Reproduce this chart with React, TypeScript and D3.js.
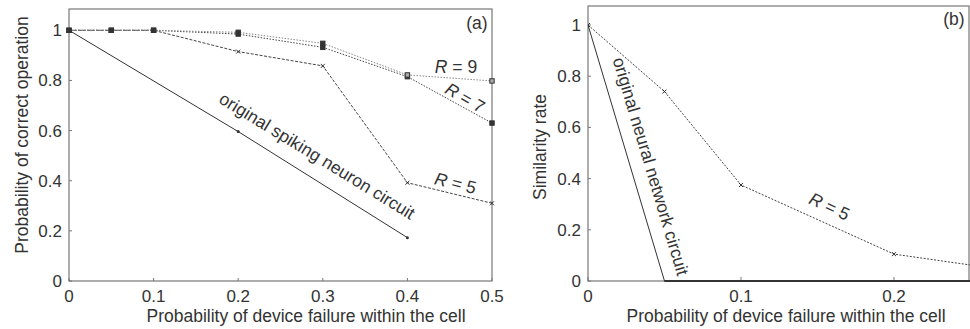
import { scaleLinear, line } from "d3";

// panel (a)
const xA = [0, 0.05, 0.1, 0.2, 0.3, 0.4, 0.5];
const r9A = [1, 1, 1, 0.992, 0.948, 0.822, 0.798];
const r7A = [1, 1, 1, 0.985, 0.932, 0.815, 0.63];
const r5A = [1, 1, 1, 0.915, 0.858, 0.392, 0.31];
const origAx = [0, 0.2, 0.4];
const origA = [1, 0.596, 0.173];
const xTicksA = [0, 0.1, 0.2, 0.3, 0.4, 0.5];

// panel (b)
const xB = [0, 0.05, 0.1, 0.2, 0.3];
const r5B = [1, 0.74, 0.375, 0.105, 0.02];
const origBx = [0, 0.05, 0.3];
const origB = [1, 0, 0];
const xTicksB = [0, 0.1, 0.2];

const yTicks = [0, 0.2, 0.4, 0.6, 0.8, 1];

const FONT = "Liberation Sans, Arial, sans-serif";
const TXT = "#333";
const FRAME = "#777";
const FS = 17.5;
const TICK_FS = 17;

type Pt = [number, number];
const zip = (xs: number[], ys: number[]): Pt[] => xs.map((x, i) => [x, ys[i]]);

function Square({ x, y, fill }: { x: number; y: number; fill: string }) {
  return <rect x={x - 2.2} y={y - 2.2} width={4.4} height={4.4} fill={fill} stroke="#333" strokeWidth={1} />;
}
function Cross({ x, y }: { x: number; y: number }) {
  return (
    <path d={`M${x - 2},${y - 2}L${x + 2},${y + 2}M${x - 2},${y + 2}L${x + 2},${y - 2}`} stroke="#333" strokeWidth={1} />
  );
}

export default function App() {
  // panel (a) scales
  const xa = scaleLinear().domain([0, 0.5]).range([69, 492]);
  const ya = scaleLinear().domain([0, 1]).range([281, 30.3]);
  // panel (b) scales
  const xb = scaleLinear().domain([0, 0.25]).range([588, 970.5]);
  const yb = scaleLinear().domain([0, 1]).range([281, 25]);

  const la = line<Pt>().x((d) => xa(d[0])).y((d) => ya(d[1]));
  const lb = line<Pt>().x((d) => xb(d[0])).y((d) => yb(d[1]));

  const origAngle = (Math.atan2(ya(origA[2]) - ya(origA[0]), xa(origAx[2]) - xa(origAx[0])) * 180) / Math.PI;
  const origBAngle = (Math.atan2(yb(0) - yb(1), xb(0.05) - xb(0)) * 180) / Math.PI;

  return (
    <svg width={970} height={329} style={{ position: "absolute", left: 0, top: 0, background: "#fff" }} fontFamily={FONT}>
      <defs>
        <clipPath id="clipB">
          <rect x={588} y={5} width={382} height={277} />
        </clipPath>
      </defs>

      {/* ---------- panel (a) ---------- */}
      <rect x={69} y={9} width={423} height={272} fill="none" stroke={FRAME} strokeWidth={1.2} />
      {yTicks.map((t) => (
        <g key={t}>
          <line x1={69} x2={72} y1={ya(t)} y2={ya(t)} stroke={FRAME} />
          <text x={62} y={ya(t) + 6} textAnchor="end" fontSize={TICK_FS} fill={TXT}>
            {t}
          </text>
        </g>
      ))}
      {xTicksA.map((t) => (
        <g key={t}>
          <line x1={xa(t)} x2={xa(t)} y1={281} y2={278} stroke={FRAME} />
          <text x={xa(t)} y={302} textAnchor="middle" fontSize={TICK_FS} fill={TXT}>
            {t}
          </text>
        </g>
      ))}
      <text x={306} y={322} textAnchor="middle" fontSize={FS} fill={TXT}>
        Probability of device failure within the cell
      </text>
      <text transform="translate(28,135) rotate(-90)" textAnchor="middle" fontSize={FS} fill={TXT}>
        Probability of correct operation
      </text>

      <path d={la(zip(origAx, origA)) ?? ""} fill="none" stroke="#333" strokeWidth={1} />
      <path d={la(zip(xA, r5A)) ?? ""} fill="none" stroke="#444" strokeWidth={1} strokeDasharray="3,1.5" />
      <path d={la(zip(xA, r7A)) ?? ""} fill="none" stroke="#444" strokeWidth={1} strokeDasharray="1.5,1.5" />
      <path d={la(zip(xA, r9A)) ?? ""} fill="none" stroke="#888" strokeWidth={1} strokeDasharray="1.5,1.5" />
      {zip(origAx, origA).map((d, i) => (
        <circle key={"o" + i} cx={xa(d[0])} cy={ya(d[1])} r={1.5} fill="#333" />
      ))}
      {zip(xA, r5A).map((d, i) => (
        <Cross key={"c" + i} x={xa(d[0])} y={ya(d[1])} />
      ))}
      {zip(xA, r7A).map((d, i) => (
        <Square key={"s7" + i} x={xa(d[0])} y={ya(d[1])} fill="#333" />
      ))}
      {zip(xA, r9A).map((d, i) => (
        <Square key={"s9" + i} x={xa(d[0])} y={ya(d[1])} fill={i < 5 ? "#333" : "#aaa"} />
      ))}

      <text x={477} y={29} textAnchor="middle" fontSize={FS} fill={TXT}>(a)</text>
      <text x={456} y={73} textAnchor="middle" fontSize={FS} fill={TXT}>
        <tspan fontStyle="italic">R</tspan> = 9
      </text>
      <text transform="translate(462,103) rotate(30)" textAnchor="middle" fontSize={FS} fill={TXT}>
        <tspan fontStyle="italic">R</tspan> = 7
      </text>
      <text transform="translate(454,189) rotate(14)" textAnchor="middle" fontSize={FS} fill={TXT}>
        <tspan fontStyle="italic">R</tspan> = 5
      </text>
      <text transform={`translate(314,161) rotate(${origAngle})`} textAnchor="middle" fontSize={FS} fill={TXT}>
        original spiking neuron circuit
      </text>

      {/* ---------- panel (b) ---------- */}
      <rect x={588} y={6} width={381} height={275} fill="none" stroke={FRAME} strokeWidth={1.2} />
      {yTicks.map((t) => (
        <g key={t}>
          <line x1={588} x2={591} y1={yb(t)} y2={yb(t)} stroke={FRAME} />
          <text x={581} y={yb(t) + 6} textAnchor="end" fontSize={TICK_FS} fill={TXT}>
            {t}
          </text>
        </g>
      ))}
      {xTicksB.map((t) => (
        <g key={t}>
          <line x1={xb(t)} x2={xb(t)} y1={281} y2={277} stroke={FRAME} />
          <text x={xb(t)} y={302} textAnchor="middle" fontSize={TICK_FS} fill={TXT}>
            {t}
          </text>
        </g>
      ))}
      <text x={786} y={322} textAnchor="middle" fontSize={FS} fill={TXT}>
        Probability of device failure within the cell
      </text>
      <text transform="translate(546,147) rotate(-90)" textAnchor="middle" fontSize={FS} fill={TXT}>
        Similarity rate
      </text>

      <g clipPath="url(#clipB)">
        <path d={lb(zip(origBx, origB)) ?? ""} fill="none" stroke="#333" strokeWidth={1} />
        <line x1={xb(0.05)} x2={970} y1={yb(0)} y2={yb(0)} stroke="#333" strokeWidth={2.2} />
        <path d={lb(zip(xB, r5B)) ?? ""} fill="none" stroke="#444" strokeWidth={1} strokeDasharray="2,1.5" />
        {zip(xB, r5B).map((d, i) => (
          <Cross key={"b" + i} x={xb(d[0])} y={yb(d[1])} />
        ))}
      </g>
      <text x={954} y={25} textAnchor="middle" fontSize={FS} fill={TXT}>(b)</text>
      <text transform="translate(827,212) rotate(25)" textAnchor="middle" fontSize={FS} fill={TXT}>
        <tspan fontStyle="italic">R</tspan> = 5
      </text>
      <text transform={`translate(645,168) rotate(${origBAngle})`} textAnchor="middle" fontSize={FS} fill={TXT}>
        original neural network circuit
      </text>
    </svg>
  );
}
